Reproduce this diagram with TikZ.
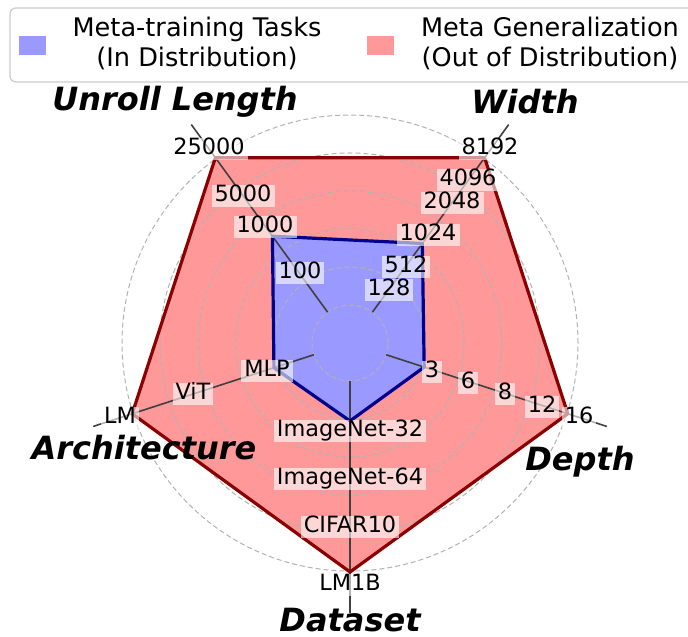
\documentclass[tikz,border=0pt]{standalone}
\usepackage{fontspec}
\setmainfont{DejaVu Sans}[ItalicFont={DejaVu Sans Oblique},BoldFont={DejaVu Sans Bold},BoldItalicFont={DejaVu Sans Bold Oblique}]
\usepackage{xcolor}
\definecolor{ood}{RGB}{255,153,153}
\definecolor{ind}{RGB}{153,153,255}
\definecolor{oodedge}{RGB}{139,0,0}
\definecolor{indedge}{RGB}{0,0,139}

\begin{document}
\begin{tikzpicture}
  [x=0.5pt,y=0.5pt,
   tick/.style={fill=white,fill opacity=0.6,text opacity=1,inner xsep=1.5pt,inner ysep=1pt,
     text height=0.74em,text depth=0.2em,font=\fontsize{11.2}{13}\selectfont},
   axname/.style={inner sep=0pt,font=\fontsize{16}{19}\selectfont\bfseries\itshape},
   legtext/.style={align=center,inner sep=0pt,font=\fontsize{12.8}{15}\selectfont},
   key/.style={inner sep=0pt,minimum width=13.5pt,minimum height=9.5pt},
   ring/.style={black!30,line width=0.5pt,dash pattern=on 2.5pt off 1.5pt},
   spoke/.style={black!75,line width=0.8pt},
   rim/.style={line width=1.6pt,line join=round}]
  \useasboundingbox (0,0) rectangle (688,636);
  \clip (0,0) rectangle (688,636);

  \draw[black!20,line width=0.6pt,rounded corners=3pt,fill=white] (10,554) rectangle (720,628);
  \node[key,fill=ind] (k1) at (32.5,590.5) {};
  \node[key,fill=ood] (k2) at (380.5,590.5) {};
  \node[legtext] (l1) at (197,593) {Meta-training Tasks\\(In Distribution)};
  \node[legtext] (l2) at (550,593) {Meta Generalization\\(Out of Distribution)};

  \begin{scope}[shift={(350,293)}]
    \coordinate (c) at (0,0);
    \foreach \n/\a/\r/\b in {u/126/229/132,w/54/229/123,d/-18/229/78,s/-90/229/78,a/198/229/80}
    {
      \coordinate (\n i) at (\a:38);
      \coordinate (\n o) at (\a:270);
      \coordinate (\n r) at (\a:\r);
      \coordinate (\n b) at (\a:\b);
    }
    \fill[ood] (ur) -- (wr) -- (dr) -- (sr) -- (ar) -- cycle;
    \fill[ind] (ub) -- (wb) -- (db) -- (sb) -- (ab) -- cycle;
    \foreach \r in {38,76,...,228}
      \draw[ring] (c) circle (\r);
    \foreach \n in {u,w,d,s,a}
      \draw[spoke] (\n i) -- (\n o);
    \draw[rim,oodedge] (ur) -- (wr) -- (dr) -- (sr) -- (ar) -- cycle;
    \draw[rim,indedge] (ub) -- (wb) -- (db) -- (sb) -- (ab) -- cycle;

    \foreach \n/\x/\y/\t in {u1/-50/70/100,u2/-85/116/1000,u3/-107/147/5000,u4/-141/194/25000,
      w1/39/53/128,w2/56/76/512,w3/78/108/1024,w4/102/140/2048,w5/118/163/4096,w6/140/194/8192,
      d1/82/-29/3,d2/118/-40/6,d3/155/-51/8,d4/192/-64/12,d5/229/-75/16,
      s1/0/-88/ImageNet-32,s2/0/-136/ImageNet-64,s3/0/-184/CIFAR10,s4/0/-242/LM1B,
      a1/-83/-28/MLP,a2/-157/-51/ViT,a3/-230/-75/LM}
      \node[tick] (\n) at (\x,\y) {\t};

    \node[axname] (tu) at (-175,241) {Unroll Length};
    \node[axname] (tw) at (175,241) {Width};
    \node[axname] (td) at (230,-119) {Depth};
    \node[axname] (ts) at (0,-277) {Dataset};
    \node[axname] (ta) at (-206,-105) {Architecture};
  \end{scope}
\end{tikzpicture}
\end{document}
